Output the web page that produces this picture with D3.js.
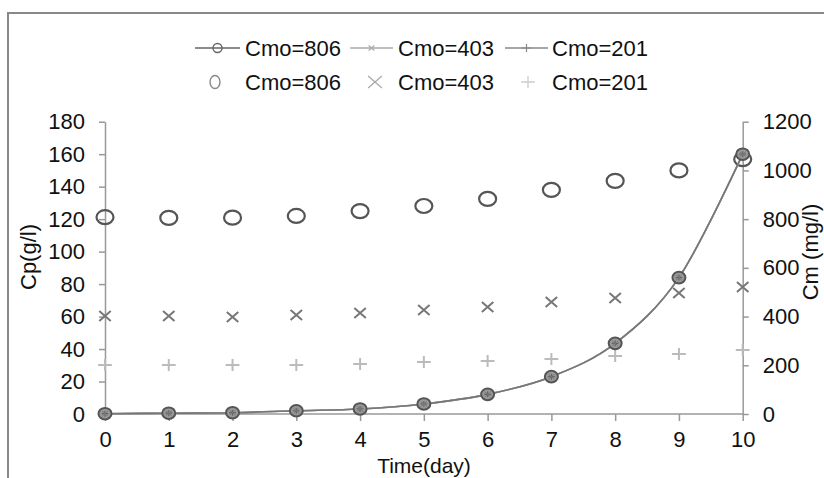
<!DOCTYPE html>
<html><head><meta charset="utf-8">
<script src="https://cdn.jsdelivr.net/npm/d3@7"></script>
<style>
html,body{margin:0;padding:0;background:#fff;}
svg{display:block;font-family:"Liberation Sans",Arial,sans-serif;}
</style></head>
<body><svg id="c" width="824" height="478"></svg>
<script>
const days = [0,1,2,3,4,5,6,7,8,9,10];
// Model lines (Cp, left axis)
const cpLine806 = [0.2,0.5,0.8,2.0,3.1,6.2,12.1,23.0,43.5,84,160];
const cpLine403 = [0.2,0.5,0.8,2.0,3.1,6.2,12.1,23.0,43.5,84,160];
const cpLine201 = [0.2,0.5,0.8,2.0,3.1,6.2,12.1,23.0,43.5,84,160];
// Measured points (Cm, right axis)
const cm806 = [808,805,806,813,833,854,883,920,957,1000,1046];
const cm403 = [402,402,398,406,415,427,439,460,476,497,521];
const cm201 = [201,201,201,201,205,213,218,226,238,246,263];
const leftTicks = [0,20,40,60,80,100,120,140,160,180];
const rightTicks = [0,200,400,600,800,1000,1200];
const legendLabels = ["Cmo=806","Cmo=403","Cmo=201"];

const svg = d3.select("#c");
const x = d3.scaleLinear().domain([0,10]).range([105,742.7]);
const yL = d3.scaleLinear().domain([0,180]).range([414,121.7]);
const yR = d3.scaleLinear().domain([0,1200]).range([414,121.7]);

// frame
svg.append("rect").attr("x",8).attr("y",13).attr("width",830).attr("height",480)
  .attr("fill","none").attr("stroke","#888").attr("stroke-width",2);

const axisCol = "#999";
const fs = 22;
function styleAxis(g){
  g.selectAll("path").attr("stroke",axisCol).attr("stroke-width",1.5);
  g.selectAll("line").attr("stroke",axisCol).attr("stroke-width",1.5);
  g.selectAll("text").attr("fill","#111").style("font-size",fs+"px").style("font-family","'Liberation Sans',Arial,sans-serif");
}
const gL = svg.append("g").attr("transform","translate(105,0)")
  .call(d3.axisLeft(yL).tickValues(leftTicks).tickFormat(d3.format("d")).tickSize(6).tickSizeOuter(0).tickPadding(14));
styleAxis(gL);
const gR = svg.append("g").attr("transform","translate(742.7,0)")
  .call(d3.axisRight(yR).tickValues(rightTicks).tickFormat(d3.format("d")).tickSize(6).tickSizeOuter(0).tickPadding(14));
styleAxis(gR);
const gX = svg.append("g").attr("transform","translate(0,414)")
  .call(d3.axisBottom(x).tickValues(days).tickFormat(d3.format("d")).tickSize(7).tickSizeOuter(0).tickPadding(10));
styleAxis(gX);
gX.select(".domain").attr("d","M105,0H742.7");

// axis titles
svg.append("text").attr("transform","translate(36,257) rotate(-90)").attr("text-anchor","middle")
  .style("font-size",fs+"px").attr("fill","#111").text("Cp(g/l)");
svg.append("text").attr("transform","translate(818,252) rotate(-90)").attr("text-anchor","middle")
  .style("font-size",fs+"px").attr("fill","#111").text("Cm (mg/l)");
svg.append("text").attr("x",424).attr("y",473).attr("text-anchor","middle")
  .style("font-size","21px").attr("fill","#111").text("Time(day)");

// measured markers
function circleM(g,cx,cy,rx,ry,col,w){
  g.append("ellipse").attr("cx",cx).attr("cy",cy).attr("rx",rx).attr("ry",ry)
   .attr("fill","none").attr("stroke",col).attr("stroke-width",w);
}
function xM(g,cx,cy,h,col,w){
  g.append("path").attr("d",`M${cx-h*1.15},${cy-h}L${cx+h*1.15},${cy+h}M${cx-h*1.15},${cy+h}L${cx+h*1.15},${cy-h}`)
   .attr("stroke",col).attr("stroke-width",w).attr("fill","none");
}
function plusM(g,cx,cy,h,col,w){
  g.append("path").attr("d",`M${cx-h*1.15},${cy}H${cx+h*1.15}M${cx},${cy-h}V${cy+h}`)
   .attr("stroke",col).attr("stroke-width",w).attr("fill","none");
}
const pts = svg.append("g");
days.forEach((d,i)=>{ plusM(pts,x(d),yR(cm201[i]),6,"#bbb",2); });
days.forEach((d,i)=>{ xM(pts,x(d),yR(cm403[i]),5,"#777",2); });
days.forEach((d,i)=>{ circleM(pts,x(d),yR(cm806[i]),8.5,7,"#555",2.2); });

// model lines
const line = d3.line().x((d,i)=>x(days[i])).y(d=>yL(d)).curve(d3.curveCardinal.tension(0));
[[cpLine201,"#888"],[cpLine403,"#aaa"],[cpLine806,"#777"]].forEach(([arr,col])=>{
  svg.append("path").datum(arr).attr("d",line).attr("fill","none").attr("stroke",col).attr("stroke-width",1.6);
});
const lm = svg.append("g");
days.forEach((d,i)=>{
  const cx=x(d), cy=yL(cpLine806[i]);
  lm.append("ellipse").attr("cx",cx).attr("cy",cy).attr("rx",6.5).attr("ry",5.8)
    .attr("fill","#999").attr("stroke","#555").attr("stroke-width",2);
  plusM(lm,x(d),yL(cpLine201[i]),3,"#666",1.2);
  xM(lm,x(d),yL(cpLine403[i]),2.5,"#777",1);
});

// legend
const lg = svg.append("g");
const lfs = 22;
const row1 = 48, row2 = 82;
const lineItems = [
  {x0:195,x1:240,tx:245,col:"#666",mk:"c"},
  {x0:350,x1:393,tx:398,col:"#aaa",mk:"x"},
  {x0:505,x1:548,tx:552,col:"#888",mk:"p"}
];
lineItems.forEach((it,i)=>{
  lg.append("line").attr("x1",it.x0).attr("x2",it.x1).attr("y1",row1).attr("y2",row1)
    .attr("stroke",it.col).attr("stroke-width",1.6);
  const mx=(it.x0+it.x1)/2;
  if(it.mk==="c") circleM(lg,mx,row1,4.5,4.5,"#666",1.4);
  if(it.mk==="x") xM(lg,mx,row1,2.5,"#aaa",1.2);
  if(it.mk==="p") plusM(lg,mx,row1,4,"#888",1.2);
  lg.append("text").attr("x",it.tx).attr("y",row1+8).style("font-size",lfs+"px").attr("fill","#111").text(legendLabels[i]);
});
const ptItems = [{mx:215,tx:245,mk:"c"},{mx:375,tx:398,mk:"x"},{mx:528,tx:552,mk:"p"}];
ptItems.forEach((it,i)=>{
  if(it.mk==="c") circleM(lg,it.mx,row2,5,6.5,"#888",1.4);
  if(it.mk==="x") xM(lg,it.mx,row2,6,"#aaa",1.3);
  if(it.mk==="p") plusM(lg,it.mx,row2,6,"#ccc",1.3);
  lg.append("text").attr("x",it.tx).attr("y",row2+8).style("font-size",lfs+"px").attr("fill","#111").text(legendLabels[i]);
});
</script></body></html>
